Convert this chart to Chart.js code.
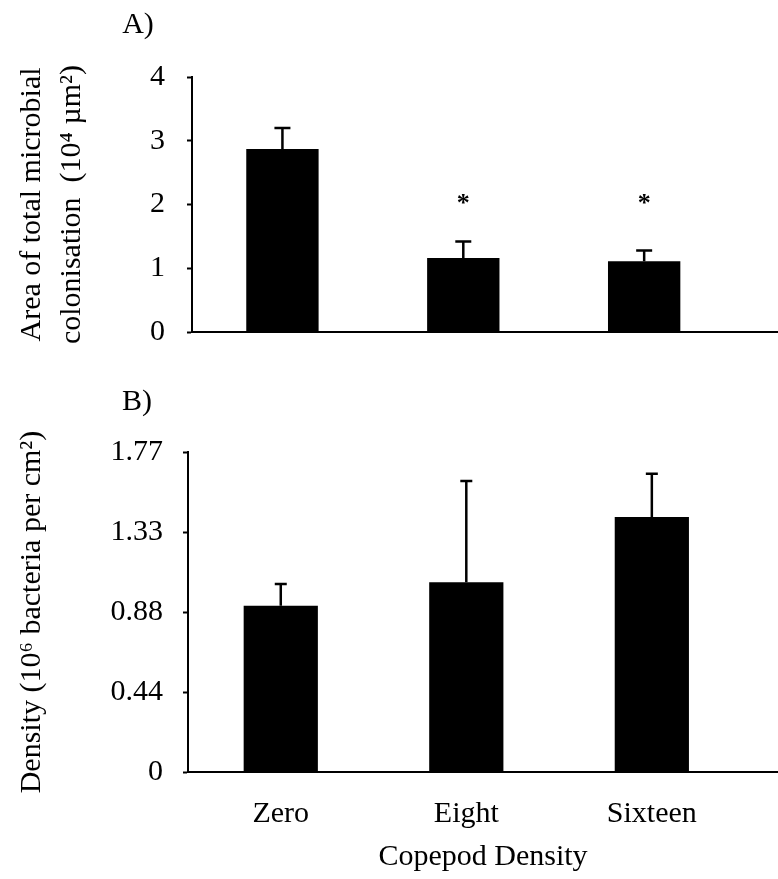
<!DOCTYPE html>
<html>
<head>
<meta charset="utf-8">
<title>Copepod density</title>
<script src="https://cdn.jsdelivr.net/npm/chart.js@4.4.1/dist/chart.umd.min.js"></script>
<style>
  html, body { margin: 0; padding: 0; background: #fff; }
  .panel { position: absolute; left: 0; width: 778px; }
  #panelA { top: 0; height: 360px; }
  #panelB { top: 360px; height: 519px; }
</style>
</head>
<body>
<div class="panel" id="panelA"><canvas id="areaChart"></canvas></div>
<div class="panel" id="panelB"><canvas id="densityChart"></canvas></div>
<script>
const categories = ["Zero", "Eight", "Sixteen"];

// A) area of total microbial colonisation (10^4 µm²)
const areaMean = [2.87, 1.16, 1.11];
const areaErr = [0.33, 0.26, 0.17];
const areaMarks = ["", "*", "*"];
const areaMarkLevel = 2.1;
const areaTicks = [0, 1, 2, 3, 4];
const areaTickLabels = ["0", "1", "2", "3", "4"];

// B) bacterial density (10^6 per cm²)
const densityMean = [0.92, 1.05, 1.41];
const densityErr = [0.12, 0.56, 0.24];
const densityTicks = [0, 0.4425, 0.885, 1.3275, 1.77];
const densityTickLabels = ["0", "0.44", "0.88", "1.33", "1.77"];

const SERIF = "'Liberation Serif', 'Times New Roman', serif";
const TEXT_SIZE = 30;

function serif(size, extra) {
  return Object.assign({ family: SERIF, size: size }, extra || {});
}

// upper-only error whiskers with a flat cap
function errorBarPlugin(mean, err, cap) {
  return {
    id: "errorBars",
    afterDatasetsDraw(chart) {
      const { ctx } = chart;
      const x = chart.scales.x;
      const y = chart.scales.y;
      ctx.save();
      ctx.strokeStyle = "#000";
      ctx.lineWidth = 2.5;
      mean.forEach((m, i) => {
        const px = x.getPixelForValue(i);
        const top = y.getPixelForValue(m + err[i]);
        ctx.beginPath();
        ctx.moveTo(px, y.getPixelForValue(m));
        ctx.lineTo(px, top);
        ctx.moveTo(px - cap / 2, top);
        ctx.lineTo(px + cap / 2, top);
        ctx.stroke();
      });
      ctx.restore();
    },
  };
}

function sigMarkPlugin(marks, level) {
  return {
    id: "sigMarks",
    afterDatasetsDraw(chart) {
      const { ctx } = chart;
      const x = chart.scales.x;
      const y = chart.scales.y;
      ctx.save();
      ctx.fillStyle = "#000";
      ctx.font = "bold 26px " + SERIF;
      ctx.textAlign = "center";
      ctx.textBaseline = "alphabetic";
      marks.forEach((m, i) => {
        if (!m) return;
        ctx.fillText(m, x.getPixelForValue(i), y.getPixelForValue(level) + 13);
      });
      ctx.restore();
    },
  };
}

function panelLabelPlugin(text, px, py) {
  return {
    id: "panelLabel",
    afterDraw(chart) {
      const { ctx } = chart;
      ctx.save();
      ctx.fillStyle = "#000";
      ctx.font = TEXT_SIZE + "px " + SERIF;
      ctx.textAlign = "center";
      ctx.textBaseline = "middle";
      ctx.fillText(text, px, py);
      ctx.restore();
    },
  };
}

function makePanel(id, cfg) {
  return new Chart(document.getElementById(id), {
    type: "bar",
    data: {
      datasets: [
        {
          data: cfg.mean.map((v, i) => ({ x: i, y: v })),
          backgroundColor: "#000",
          borderWidth: 0,
          barPercentage: 0.4,
          categoryPercentage: 1,
        },
      ],
    },
    options: {
      responsive: true,
      maintainAspectRatio: false,
      animation: false,
      layout: { padding: { top: cfg.top, right: 0, bottom: 0, left: 0 } },
      plugins: { legend: { display: false }, tooltip: { enabled: false } },
      scales: {
        x: {
          type: "linear",
          min: -0.5,
          max: cfg.xMax,
          offset: false,
          grid: { display: false },
          border: { color: "#000", width: 2 },
          afterBuildTicks: (s) => {
            s.ticks = categories.map((c, i) => ({ value: i }));
          },
          ticks: {
            display: cfg.showLabels,
            padding: 16,
            font: serif(TEXT_SIZE),
            color: "#000",
            maxRotation: 0,
            autoSkip: false,
            callback: (v) => categories[v],
          },
          title: {
            display: !!cfg.xTitle,
            text: cfg.xTitle || "",
            font: serif(TEXT_SIZE),
            color: "#000",
            padding: { top: 0, bottom: 4 },
          },
          afterFit: (s) => {
            s.height = cfg.xHeight;
          },
        },
        y: {
          min: 0,
          max: cfg.ticks[cfg.ticks.length - 1],
          afterBuildTicks: (s) => {
            s.ticks = cfg.ticks.map((v) => ({ value: v }));
          },
          ticks: {
            padding: cfg.tickPad,
            font: serif(TEXT_SIZE),
            color: "#000",
            callback: (v, i) => cfg.tickLabels[i],
          },
          grid: {
            drawOnChartArea: false,
            drawTicks: true,
            tickLength: 5,
            tickWidth: 2,
            color: "#000",
          },
          border: { color: "#000", width: 2 },
          title: {
            display: true,
            text: cfg.yTitle,
            font: serif(TEXT_SIZE, { lineHeight: cfg.titleLine }),
            color: "#000",
            padding: { top: cfg.titlePad, bottom: 0 },
          },
          afterFit: (s) => {
            // fixed axis width; end labels may hang past the plot edges
            s.width = cfg.yWidth;
            s.paddingTop = 0;
            s.paddingBottom = 0;
          },
        },
      },
    },
    plugins: cfg.plugins,
  });
}

makePanel("areaChart", {
  mean: areaMean,
  ticks: areaTicks,
  tickLabels: areaTickLabels,
  yTitle: ["Area of total microbial", "colonisation  (10\u2074 \u00b5m\u00b2)"],
  titleLine: 1.33,
  titlePad: 12,
  tickPad: 22,
  top: 77,
  yWidth: 192,
  xMax: 2.74,
  xHeight: 28,
  showLabels: false,
  plugins: [
    errorBarPlugin(areaMean, areaErr, 16),
    sigMarkPlugin(areaMarks, areaMarkLevel),
    panelLabelPlugin("A)", 138, 25),
  ],
});

makePanel("densityChart", {
  mean: densityMean,
  ticks: densityTicks,
  tickLabels: densityTickLabels,
  yTitle: "Density (10\u2076 bacteria per cm\u00b2)",
  titleLine: 1.2,
  titlePad: 14,
  tickPad: 20,
  top: 92,
  yWidth: 188,
  xMax: 2.68,
  xHeight: 107,
  showLabels: true,
  xTitle: "Copepod Density",
  plugins: [
    errorBarPlugin(densityMean, densityErr, 12),
    panelLabelPlugin("B)", 137, 42),
  ],
});
</script>
</body>
</html>
